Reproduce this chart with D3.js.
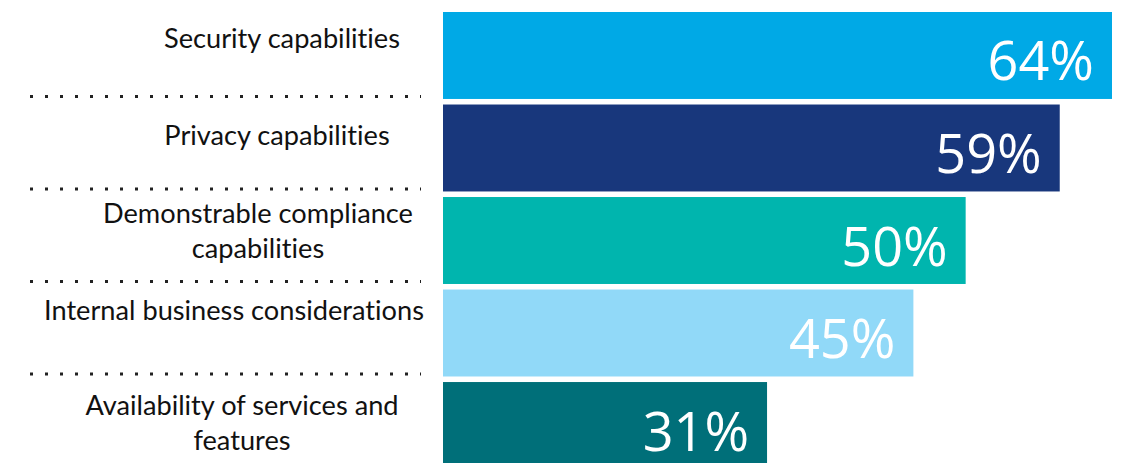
<!DOCTYPE html>
<html><head><meta charset="utf-8">
<script src="https://cdn.jsdelivr.net/npm/d3@7"></script>
<style>html,body{margin:0;padding:0;background:#fff;}svg{display:block;}text{font-variant-ligatures:none;}</style>
</head><body>
<svg id="c" width="1133" height="463"></svg>
<script>
// Data
const categories = ["Security capabilities","Privacy capabilities","Demonstrable compliance capabilities","Internal business considerations","Availability of services and features"];
const labelLines = [["Security capabilities"],["Privacy capabilities"],["Demonstrable compliance","capabilities"],["Internal business considerations"],["Availability of services and","features"]];
const values = [64, 59, 50, 45, 31];
const valueLabels = ["64%","59%","50%","45%","31%"];
const colors = ["#00A9E6","#18377C","#00B5AE","#91D9F8","#006F79"];

// Layout (not data)
const labelCx = [282, 277, 258, 234, 242];
const labelBaseDy = [-7.5, -3, -17.5, -13, -10.5];
const lineH = 35;

const svg = d3.select("#c");
const x = d3.scaleLinear().domain([0, 64]).range([443, 1112]);
const y = d3.scaleBand().domain(categories).range([12, 469]).paddingInner(0.06).paddingOuter(0);

svg.selectAll("rect.bar").data(categories).join("rect")
  .attr("class","bar")
  .attr("x", x(0))
  .attr("y", d => y(d))
  .attr("width", (d,i) => x(values[i]) - x(0))
  .attr("height", y.bandwidth())
  .attr("fill", (d,i) => colors[i]);

svg.selectAll("text.val").data(categories).join("text")
  .attr("class","val")
  .attr("x", (d,i) => x(values[i]) - 18)
  .attr("y", d => y(d) + y.bandwidth()/2 + 25)
  .attr("text-anchor","end")
  .attr("fill","#fff")
  .style("font-family","'Open Sans', sans-serif")
  .style("font-size","54px")
  .text((d,i) => valueLabels[i]);

// separators
svg.selectAll("line.sep").data(categories.slice(0,4)).join("line")
  .attr("class","sep")
  .attr("x1", 30).attr("x2", 421)
  .attr("y1", d => y(d) + y.bandwidth() - 2.5)
  .attr("y2", d => y(d) + y.bandwidth() - 2.5)
  .attr("stroke","#222")
  .attr("stroke-width",3)
  .attr("stroke-dasharray","3 12");

// category labels
const lab = svg.selectAll("text.cat").data(categories).join("text")
  .attr("class","cat")
  .attr("text-anchor","middle")
  .attr("fill","#111")
  .style("font-family","Lato, 'Open Sans', sans-serif")
  .style("font-size","24px");
lab.each(function(d,i){
  const t = d3.select(this);
  labelLines[i].forEach((ln,k) => {
    t.append("tspan")
      .attr("x", labelCx[i])
      .attr("y", y(d) + y.bandwidth()/2 + labelBaseDy[i] + k*lineH)
      .text(ln);
  });
});
// fit label font to reference width of first label (236px)
const w0 = lab.nodes()[0].getComputedTextLength();
const fs = 24 * 236 / w0;
lab.style("font-size", fs.toFixed(2) + "px");
</script>
</body></html>
